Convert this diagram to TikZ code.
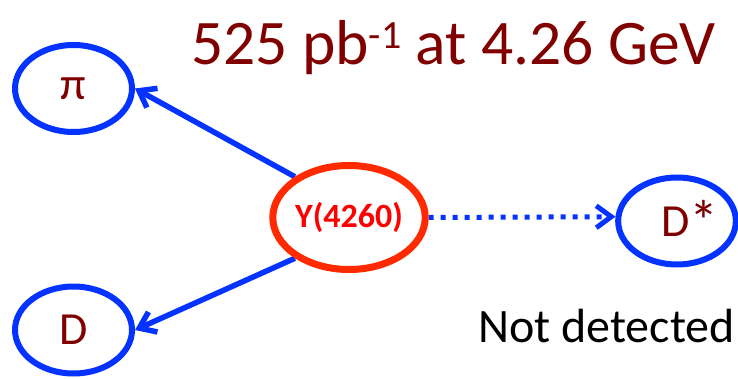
\documentclass[tikz,border=0pt]{standalone}
\usepackage{fontspec}
\setmainfont{Carlito}
\usepackage{tikz}
\usetikzlibrary{arrows.meta,shapes.geometric,backgrounds}
\definecolor{pblue}{HTML}{0433FF}
\definecolor{pred}{HTML}{FF2A00}
\definecolor{ytext}{HTML}{FF0000}
\definecolor{maroon}{HTML}{800000}
\tikzset{
  part/.style={ellipse,draw=pblue,line width=6pt,inner sep=0pt,
    minimum width=117pt,minimum height=87pt,text=maroon,
    font=\fontsize{46}{50}\selectfont},
  parent/.style={ellipse,draw=pred,line width=7pt,inner sep=0pt,
    minimum width=141pt,minimum height=104pt,text=ytext,
    font=\fontsize{34}{38}\selectfont\bfseries},
  decay/.style={draw=pblue,line width=5.5pt,-{Straight Barb[length=15pt,width=22pt]}},
  missing/.style={decay,line width=5pt,dash pattern=on 5pt off 7pt},
  tlabel/.style={inner sep=0pt,anchor=base west},
}
\begin{document}
\begin{tikzpicture}[x=1pt,y=-1pt]
  \useasboundingbox (0,0) rectangle (738,379);
  % run and energy
  \node[tlabel,text=maroon,font=\fontsize{63.5}{70}\selectfont] (run) at (191,65)
    {525 pb\raisebox{16pt}{\fontsize{40}{40}\selectfont -1} at 4.26 GeV};
  % particles
  \node[parent] (Y) at (349,217.5){Y(4260)};
  \node[part] (pi) at (73.5,88.5){π};
  \node[part] (D) at (73.5,330){D};
  \node[part] (Dstar) at (677,221)
    {\hspace*{26pt}D\raisebox{-5pt}{\fontsize{58}{50}\selectfont*}};
  \node[tlabel,font=\fontsize{48}{52}\selectfont] (nd) at (478,342){Not detected};
  % decays
  \begin{scope}[on background layer]
    \draw[decay] (Y.143) -- (pi.east);
    \draw[decay] (Y.217) -- (D.east);
    \draw[missing] (Y.east) -- (Dstar.176);
  \end{scope}
\end{tikzpicture}
\end{document}
